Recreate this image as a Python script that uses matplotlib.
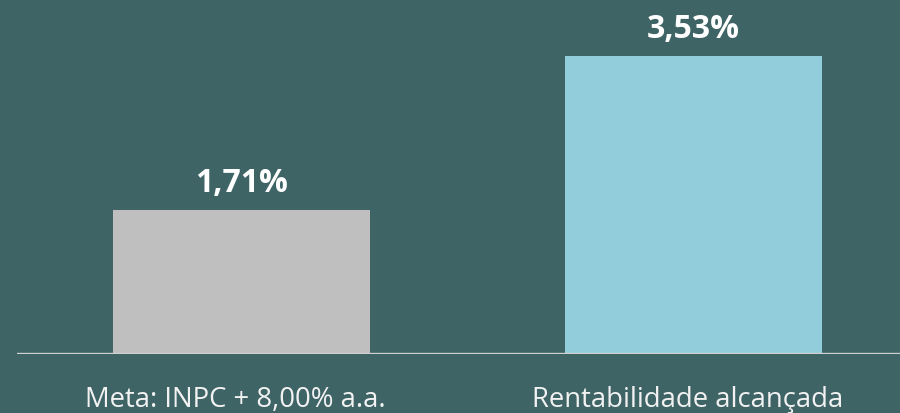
import matplotlib.pyplot as plt

categorias = ['Meta: INPC + 8,00% a.a.', 'Rentabilidade alcançada']
valores = [1.71, 3.53]
rotulos = ['1,71%', '3,53%']
cores = ['#bfbfbf', '#92cddc']

fundo = '#3f6466'

fig = plt.figure(figsize=(9, 4.14), dpi=100, facecolor=fundo)
# axes from x=17px to right edge, baseline at y=355px
ax = fig.add_axes([17/900, 59/414, 883/900, 355/414])
ax.set_facecolor(fundo)

x = range(len(valores))
ax.bar(x, valores, width=0.569, color=cores, zorder=2)
ax.set_xlim(-0.497, 1.457)
ax.set_ylim(0, 355/84.5)

for i, v in enumerate(valores):
    ax.text(i, v + 0.22, rotulos[i], ha='center', va='baseline', color='white',
            fontsize=23, fontweight='bold', family='Open Sans')
    ax.text(i - 0.014, -0.53, categorias[i], ha='center', va='center',
            color='#f2f2f2', fontsize=19.8, family='Open Sans')

ax.axhline(0, color='#d0d0d0', lw=2.4, zorder=3)
ax.set_xticks([])
ax.set_yticks([])
for s in ax.spines.values():
    s.set_visible(False)

fig.savefig('out.png', dpi=100, facecolor=fundo)
